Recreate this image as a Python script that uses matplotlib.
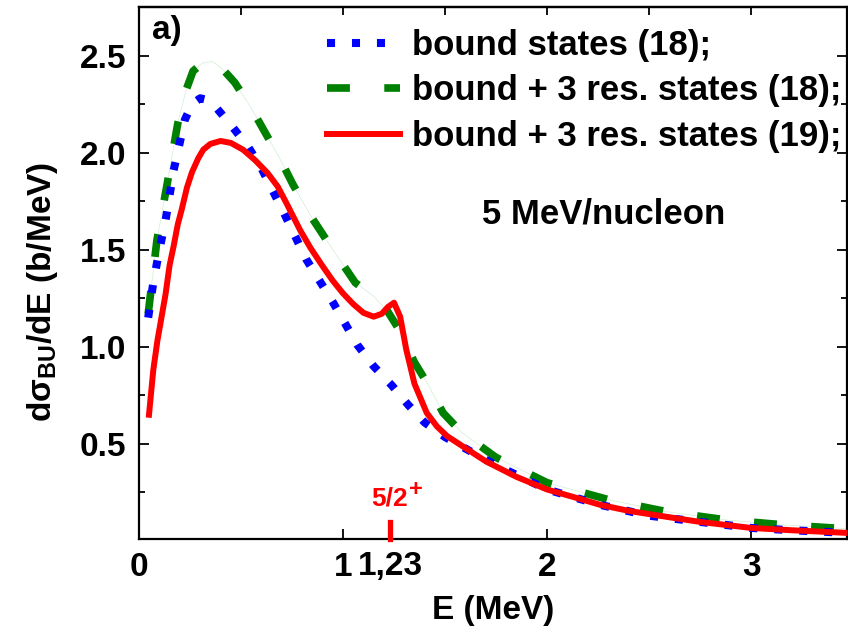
import matplotlib
matplotlib.use("Agg")
import matplotlib.pyplot as plt
from matplotlib.ticker import MultipleLocator, FixedLocator

plt.rcParams["font.family"] = ["Liberation Sans", "DejaVu Sans"]
plt.rcParams["font.weight"] = "bold"
plt.rcParams["mathtext.fontset"] = "custom"
plt.rcParams["mathtext.rm"] = "Liberation Sans:bold"
plt.rcParams["mathtext.bf"] = "Liberation Sans:bold"

# E (MeV) vs dsigma/dE (b/MeV)
e_bound = [0.045, 0.07, 0.10, 0.13, 0.17, 0.225, 0.26, 0.30, 0.34, 0.38, 0.46, 0.535,
           0.60, 0.71, 0.765, 0.82, 0.95, 1.07, 1.15, 1.24, 1.32, 1.40, 1.50, 1.61,
           1.75, 2.0, 2.26, 2.5, 2.75, 3.0, 3.2, 3.48]
s_bound = [1.15, 1.33, 1.50, 1.65, 1.91, 2.17, 2.25, 2.28, 2.27, 2.23, 2.13, 2.03,
           1.92, 1.69, 1.57, 1.45, 1.23, 1.01, 0.90, 0.80, 0.70, 0.61, 0.535, 0.47,
           0.39, 0.265, 0.186, 0.13, 0.098, 0.067, 0.055, 0.041]

e_res18 = [0.045, 0.088, 0.14, 0.19, 0.23, 0.265, 0.31, 0.36, 0.41, 0.47, 0.55, 0.62,
           0.69, 0.755, 0.85, 0.95, 1.06, 1.15, 1.22, 1.28, 1.35, 1.42, 1.49, 1.58,
           1.75, 2.0, 2.31, 2.59, 2.88, 3.17, 3.48]
s_res18 = [1.17, 1.55, 1.85, 2.15, 2.32, 2.42, 2.46, 2.47, 2.43, 2.36, 2.23, 2.10,
           1.97, 1.835, 1.66, 1.50, 1.33, 1.26, 1.18, 1.08, 0.92, 0.80, 0.66, 0.56,
           0.43, 0.30, 0.21, 0.15, 0.108, 0.082, 0.062]

e_res19 = [0.049, 0.07, 0.09, 0.11, 0.13, 0.15, 0.17, 0.19, 0.21, 0.235, 0.26, 0.29,
           0.315, 0.35, 0.40, 0.45, 0.51, 0.57, 0.63, 0.68, 0.725, 0.79, 0.84, 0.90,
           0.95, 1.00, 1.05, 1.10, 1.15, 1.19, 1.22, 1.25, 1.28, 1.31, 1.35, 1.41, 1.46,
           1.51, 1.59, 1.70, 1.85, 2.0, 2.15, 2.26, 2.40, 2.55, 2.75, 3.0, 3.2, 3.48]
s_res19 = [0.65, 0.88, 1.03, 1.15, 1.27, 1.42, 1.52, 1.63, 1.71, 1.82, 1.90, 1.97,
           2.015, 2.045, 2.06, 2.05, 2.015, 1.96, 1.895, 1.825, 1.735, 1.60, 1.51, 1.415,
           1.34, 1.275, 1.22, 1.175, 1.155, 1.17, 1.205, 1.227, 1.155, 0.985, 0.81, 0.66,
           0.59, 0.54, 0.485, 0.41, 0.33, 0.265, 0.22, 0.186, 0.155, 0.13, 0.098, 0.067,
           0.055, 0.041]

resonance_e = 1.23
xtick_vals = [0, 1, resonance_e, 2, 3]
xtick_labels = ["0", "1", "1,23", "2", "3"]

FS = 24

fig = plt.figure(figsize=(8.48, 6.35), dpi=100)
ax = fig.add_axes([139 / 848, 96 / 635, 708 / 848, 532 / 635])

ax.plot(e_res18, s_res18, color="#a8dca8", lw=0.5, alpha=0.5, zorder=1)
ax.plot(e_bound, s_bound, color="#0000ff", lw=5.8, linestyle=(0, (1.0, 2.1)),
        dash_capstyle="butt", label="bound states (18);", zorder=3)
ax.plot(e_res18, s_res18, color="#008000", lw=5.5, linestyle=(0, (3.0, 4.5)),
        dash_capstyle="butt", label="bound + 3 res. states (18);", zorder=2)
ax.plot(e_res19, s_res19, color="#ff0000", lw=4.3, label="bound + 3 res. states (19);",
        zorder=4)

ax.set_xlim(0, 3.47)
ax.set_ylim(0.01, 2.75)

ax.xaxis.set_major_locator(FixedLocator(xtick_vals))
ax.set_xticklabels(xtick_labels)
ax.set_yticks([0.5, 1.0, 1.5, 2.0, 2.5])
ax.yaxis.set_minor_locator(MultipleLocator(0.25))

ax.tick_params(axis="both", which="major", direction="in", length=7.5, width=1.3,
               labelsize=FS, pad=9)
ax.tick_params(axis="y", which="both", right=True)
ax.tick_params(axis="y", which="minor", direction="in", length=4, width=1.3)
ax.tick_params(axis="x", which="both", top=False)

# red tick marking the 5/2+ resonance
ax.axvline(resonance_e, ymin=0, ymax=17 / 532, color="#ff0000", lw=3.8, zorder=6,
           clip_on=False)

top = ax.secondary_xaxis("top")
top.xaxis.set_major_locator(MultipleLocator(0.5))
top.tick_params(direction="in", length=6, width=1.3, labeltop=False)

for s in ax.spines.values():
    s.set_linewidth(1.6)
top.spines["top"].set_linewidth(1.6)

ax.set_xlabel("E (MeV)", fontsize=FS, fontweight="bold", labelpad=9)
ax.set_ylabel("dσ$_{\\mathbf{BU}}$/dE (b/MeV)", fontsize=FS, fontweight="bold")
ax.yaxis.set_label_coords(-0.112, 0.464)

ax.text(0.018, 0.955, "a)", transform=ax.transAxes, fontsize=FS, fontweight="bold",
        ha="left", va="center")
ax.text(0.656, 0.611, "5 MeV/nucleon", transform=ax.transAxes, fontsize=25,
        fontweight="bold", ha="center", va="center")
ax.text(resonance_e, 0.22, "5/2", color="#ff0000", fontsize=19,
        fontweight="bold", ha="center", va="center")
ax.annotate("+", xy=(resonance_e, 0.22), xytext=(18.5, 6.5), textcoords="offset points",
            color="#ff0000", fontsize=17, fontweight="bold", ha="center", va="center")

ax.legend(loc="upper left", bbox_to_anchor=(0.2655, 0.959), frameon=False,
          fontsize=25, handlelength=2.1, handletextpad=0.35, labelspacing=0.36,
          borderpad=0, borderaxespad=0)

fig.savefig("out.png", dpi=100)
